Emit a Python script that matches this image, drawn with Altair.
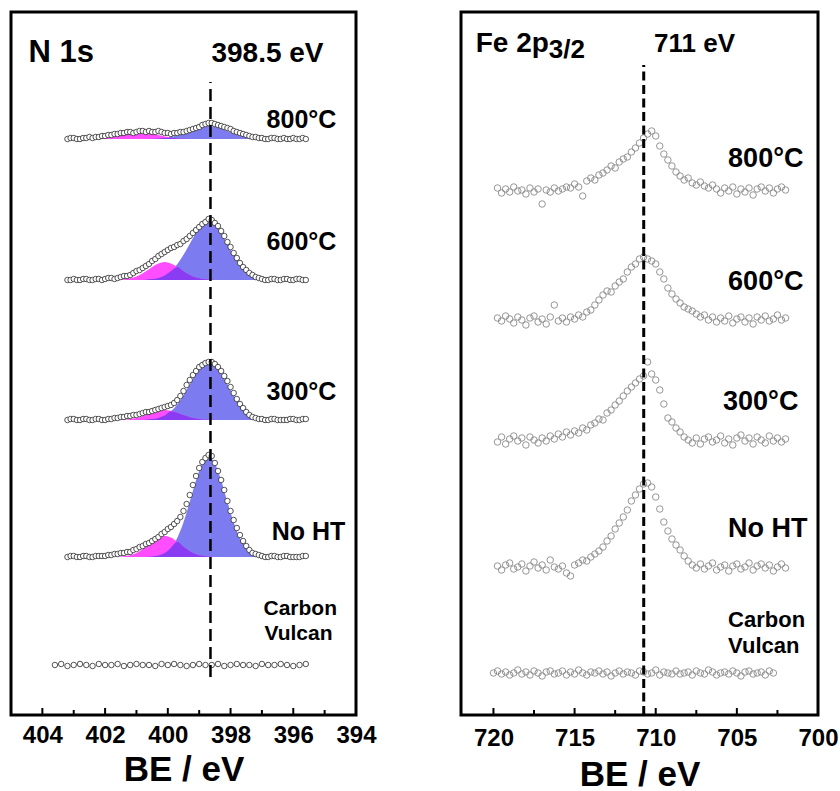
import altair as alt
import pandas as pd

FONT = "Liberation Sans"
BLUE = "#7C7CF0"
PINK = "#FF4DFF"
PURPLE = "#8A3CF2"

# ---------------- N 1s panel data ----------------
N_E = [403.2, 403.1, 403.0, 402.9, 402.8, 402.7, 402.6, 402.5, 402.4, 402.3,
       402.2, 402.1, 402.0, 401.9, 401.8, 401.7, 401.6, 401.5, 401.4, 401.3,
       401.2, 401.1, 401.0, 400.9, 400.8, 400.7, 400.6, 400.5, 400.4, 400.3,
       400.2, 400.1, 400.0, 399.9, 399.8, 399.7, 399.6, 399.5, 399.4, 399.3,
       399.2, 399.1, 399.0, 398.9, 398.8, 398.7, 398.6, 398.5, 398.4, 398.3,
       398.2, 398.1, 398.0, 397.9, 397.8, 397.7, 397.6, 397.5, 397.4, 397.3,
       397.2, 397.1, 397.0, 396.9, 396.8, 396.7, 396.6, 396.5, 396.4, 396.3,
       396.2, 396.1, 396.0, 395.9, 395.8, 395.7, 395.6]

N_800 = [0, 1, 1, 0, 0, 1, 1, 2, 1, 2,
         2, 3, 3, 4, 4, 5, 5, 6, 6, 7,
         7, 6, 7, 8, 8, 7, 8, 7, 7, 8,
         7, 6, 6, 5, 6, 6, 7, 7, 8, 9,
         10, 11, 12, 14, 15, 16, 16, 15, 14, 13,
         12, 11, 10, 8, 7, 6, 5, 4, 3, 2,
         2, 1, 1, 0, 0, 1, 1, 0, 0, 1,
         0, 0, 1, 0, 0, 1, 0]
N_600 = [0, 0, 1, 0, 0, 1, 1, 0, 0, 1,
         1, 0, 1, 2, 2, 1, 2, 3, 4, 4,
         5, 7, 9, 10, 12, 14, 16, 19, 21, 24,
         26, 28, 30, 32, 33, 35, 36, 39, 41, 44,
         47, 50, 53, 56, 58, 61, 60, 57, 54, 49,
         44, 38, 33, 27, 22, 17, 13, 10, 7, 5,
         3, 2, 1, 0, 0, 1, 1, 0, 0, 1,
         1, 0, 0, 1, 1, 0, 0]
N_300 = [0, 1, 1, 0, 0, 1, 1, 0, 0, 1,
         1, 0, 0, 1, 1, 2, 2, 3, 3, 4,
         4, 5, 5, 6, 7, 8, 8, 9, 10, 11,
         12, 13, 14, 15, 17, 20, 24, 29, 35, 40,
         45, 49, 53, 55, 57, 58, 58, 56, 53, 49,
         44, 39, 33, 27, 21, 16, 12, 8, 5, 3,
         2, 1, 1, 0, 0, 1, 1, 0, 0, 0,
         0, 1, 1, 0, 0, 1, 1]
N_NOHT = [0, 1, 1, 0, 0, 1, 1, 0, 0, 1,
          1, 1, 1, 2, 2, 3, 3, 4, 4, 5,
          5, 7, 8, 10, 11, 13, 14, 16, 18, 20,
          23, 25, 28, 30, 33, 36, 40, 46, 53, 62,
          72, 81, 89, 95, 99, 102, 101, 94, 86, 77,
          67, 56, 46, 37, 29, 22, 16, 11, 7, 4,
          3, 2, 1, 0, 0, 1, 1, 0, 0, 1,
          1, 0, 0, 0, 0, 1, 1]

N_CV_E = [403.6, 403.4, 403.2, 403.0, 402.8, 402.6, 402.4, 402.2, 402.0, 401.8,
          401.6, 401.4, 401.2, 401.0, 400.8, 400.6, 400.4, 400.2, 400.0, 399.8,
          399.6, 399.4, 399.2, 399.0, 398.8, 398.6, 398.4, 398.2, 398.0, 397.8,
          397.6, 397.4, 397.2, 397.0, 396.8, 396.6, 396.4, 396.2, 396.0, 395.8,
          395.6]
N_CV = [0, 1, -1, 0, 1, 0, -1, 1, 0, 0,
        1, -1, 0, 1, 0, 0, -1, 1, 0, 1,
        0, -1, 0, 1, 0, 0, 1, -1, 0, 1,
        0, 0, -1, 1, 0, 0, 1, 0, -1, 0,
        1]

# fitted components (blue: main peak, pink: shoulder)
N_FIT_E = [403.1, 402.9, 402.7, 402.5, 402.3, 402.1, 401.9, 401.7, 401.5, 401.3,
           401.1, 400.9, 400.7, 400.5, 400.3, 400.1, 399.9, 399.7, 399.5, 399.3,
           399.1, 398.9, 398.7, 398.5, 398.3, 398.1, 397.9, 397.7, 397.5, 397.3,
           397.1, 396.9, 396.7, 396.5, 396.3, 396.1, 395.9, 395.7]
BLUE_800 = [0] * 13 + [0.2, 0.5, 1.0, 2.0, 3.5, 5.7, 8.1, 10.6, 12.3, 13, 12.3, 10.6,
                       8.1, 5.7, 3.5, 2.0, 1.0, 0.5, 0.2] + [0] * 6
PINK_800 = [0] * 3 + [0.1, 0.3, 0.6, 1.3, 2.4, 3.9, 5.4, 6.6, 7, 6.6, 5.4, 3.9, 2.4,
                      1.3, 0.6, 0.3, 0.1] + [0] * 18
BLUE_600 = [0] * 12 + [0.3, 0.9, 2.1, 4.5, 8.9, 15.8, 25.2, 36.3, 47.1, 55.0, 58, 55.0,
                       47.1, 36.3, 25.2, 15.8, 8.9, 4.5, 2.1, 0.9, 0.3] + [0] * 5
PINK_600 = [0] * 7 + [0.1, 0.4, 1.0, 2.4, 5.0, 8.8, 13.1, 16.6, 18, 16.6, 13.1, 8.8,
                      5.0, 2.4, 1.0, 0.4, 0.1] + [0] * 14
BLUE_300 = [0] * 12 + [0.3, 0.9, 2.1, 4.4, 8.8, 15.5, 24.8, 35.7, 46.3, 54.1, 57, 54.1,
                       46.3, 35.7, 24.8, 15.5, 8.8, 4.4, 2.1, 0.9, 0.3] + [0] * 5
PINK_300 = [0] * 7 + [0.1, 0.2, 0.6, 1.4, 2.8, 4.9, 7.3, 9.2, 10, 9.2, 7.3, 4.9,
                      2.8, 1.4, 0.6, 0.2, 0.1] + [0] * 14
BLUE_NOHT = [0] * 13 + [0.5, 1.5, 3.9, 9.3, 19.1, 34.7, 55.2, 76.8, 93.6, 100, 93.6, 76.8,
                        55.2, 34.7, 19.1, 9.3, 3.9, 1.5, 0.5] + [0] * 6
PINK_NOHT = [0] * 7 + [0.1, 0.4, 1.2, 2.8, 5.8, 10.2, 15.2, 19.4, 21, 19.4, 15.2, 10.2,
                       5.8, 2.8, 1.2, 0.4, 0.1] + [0] * 14

N_OFFSETS = {"800°C": 576, "600°C": 435, "300°C": 295, "No HT": 158, "Carbon Vulcan": 50}

# ---------------- Fe 2p3/2 panel data ----------------
FE_E = [719.75, 719.5, 719.25, 719.0, 718.75, 718.5, 718.25, 718.0, 717.75, 717.5, 717.25, 717.0,
        716.75, 716.5, 716.25, 716.0, 715.75, 715.5, 715.25, 715.0, 714.75, 714.5, 714.25, 714.0,
        713.75, 713.5, 713.25, 713.0, 712.75, 712.5, 712.25, 712.0, 711.75, 711.5, 711.25, 711.0,
        710.75, 710.5, 710.25, 710.0, 709.75, 709.5, 709.25, 709.0, 708.75, 708.5, 708.25, 708.0,
        707.75, 707.5, 707.25, 707.0, 706.75, 706.5, 706.25, 706.0, 705.75, 705.5, 705.25, 705.0,
        704.75, 704.5, 704.25, 704.0, 703.75, 703.5, 703.25, 703.0, 702.75, 702.5, 702.25, 702.0]
FE_800 = [2, -3, 1, -2, 3, -1, 0, -4, 2, -2, 1, -14,
          0, -2, 2, -1, 1, 3, 2, 6, 3, -6, 9, 12,
          10, 15, 17, 20, 24, 22, 28, 31, 33, 38, 42, 47,
          52, 56, 59, 54, 44, 36, 30, 24, 18, 14, 10, 12,
          7, 5, 8, 4, 2, 5, 1, -3, 2, -1, 3, -4,
          1, -2, 2, -5, 1, 3, -1, 2, -3, 1, 3, 0]
FE_600 = [1, -2, 3, 0, -4, 2, -1, -6, 1, 3, -3, 0,
          -5, 2, 14, -2, 1, -3, 2, 0, 4, 2, 7, 9,
          14, 19, 24, 28, 27, 33, 37, 40, 47, 52, 55, 60,
          62, 60, 58, 55, 47, 40, 31, 25, 20, 16, 12, 10,
          8, 5, 2, 4, -1, 2, -3, 1, -2, 3, -4, 0,
          2, -3, 1, -5, 2, -1, 3, -2, 0, 4, -1, 1]
FE_300 = [-2, 3, -4, 1, 4, -1, 2, -5, 3, 0, -3, 2,
          -1, 4, 1, 6, 3, 8, 5, 9, 7, 12, 10, 15,
          17, 21, 20, 27, 30, 35, 39, 44, 49, 53, 57, 61,
          64, 78, 66, 60, 50, 36, 22, 18, 12, 8, 3, 0,
          -3, 2, -4, 1, 3, -2, 0, 4, -3, 1, -5, 2,
          5, -1, 2, -4, 3, 0, -3, 4, -1, 2, -2, 1]
FE_NOHT = [1, -3, 2, 4, -2, 0, 3, -4, 1, 5, -1, 2,
           -3, 7, 0, -2, 1, -6, -9, 2, 4, 7, 6, 10,
           13, 16, 20, 26, 31, 38, 44, 50, 57, 66, 72, 78,
           83, 84, 80, 70, 58, 45, 36, 28, 22, 17, 11, 6,
           2, -1, 3, -2, 1, 4, -3, 0, 2, -4, 1, 3,
           -2, 0, 4, -3, 1, 3, -1, 2, -4, 0, 3, -1]
FE_CV_E = [720.0, 719.75, 719.5, 719.25, 719.0, 718.75, 718.5, 718.25, 718.0, 717.75,
           717.5, 717.25, 717.0, 716.75, 716.5, 716.25, 716.0, 715.75, 715.5, 715.25,
           715.0, 714.75, 714.5, 714.25, 714.0, 713.75, 713.5, 713.25, 713.0, 712.75,
           712.5, 712.25, 712.0, 711.75, 711.5, 711.25, 711.0, 710.75, 710.5, 710.25,
           710.0, 709.75, 709.5, 709.25, 709.0, 708.75, 708.5, 708.25, 708.0, 707.75,
           707.5, 707.25, 707.0, 706.75, 706.5, 706.25, 706.0, 705.75, 705.5, 705.25,
           705.0, 704.75, 704.5, 704.25, 704.0, 703.75, 703.5, 703.25, 703.0, 702.75]
FE_CV = [0, 2, -1, 1, -2, 0, 3, -1, 1, -2,
         2, 0, -3, 1, 2, -1, 0, 2, -2, 1,
         -1, 3, 0, -2, 1, 0, 2, -1, 1, -3,
         0, 2, -1, 1, 0, -2, 2, 1, -1, 0,
         3, -2, 1, 0, -1, 2, -1, 0, 1, -2,
         2, 0, -1, 3, 1, -2, 0, 1, -1, 2,
         0, -3, 1, 2, -1, 0, 1, -2, 2, 0]

FE_OFFSETS = {"800°C": 525, "600°C": 396, "300°C": 275, "No HT": 148, "Carbon Vulcan": 42}

# ---------------- annotations ----------------
N_TICKS = [404, 402, 400, 398, 396, 394]
N_MINOR = [403, 401, 399, 397, 395]
FE_TICKS = [720, 715, 710, 705, 700]
FE_MINOR = [717.5, 712.5, 707.5, 702.5]

N_REF_E = 398.64
FE_REF_E = 710.74

N_TEXT = ["N 1s", "398.5 eV", "800°C", "600°C", "300°C", "No HT", "Carbon", "Vulcan"]
N_TEXT_E = [404.44, 398.61, 396.85, 396.85, 396.85, 396.69, 396.95, 396.92]
N_TEXT_Y = [653, 653, 587, 465, 315, 175, 100, 75]
N_TEXT_S = [31, 28, 25, 25, 25, 25, 21, 21]

FE_TEXT = ["Fe 2p", "3/2", "711 eV", "800°C", "600°C", "300°C", "No HT", "Carbon", "Vulcan"]
FE_TEXT_E = [721.09, 716.59, 710.1, 705.54, 705.54, 705.85, 705.54, 705.54, 705.54]
FE_TEXT_Y = [663, 657, 663, 548, 425, 305, 178, 88, 62]
FE_TEXT_S = [28, 26, 26, 27, 27, 27, 27, 22, 22]

H = 703
WL = 345
WR = 357

# ---------------- tables ----------------
def points_table(series, offsets):
    rows = []
    for name, (es, vals) in series.items():
        for e, v in zip(es, vals):
            rows.append({"E": e, "y": offsets[name] + v, "series": name})
    return pd.DataFrame(rows)


n_pts = points_table({
    "800°C": (N_E, N_800), "600°C": (N_E, N_600), "300°C": (N_E, N_300),
    "No HT": (N_E, N_NOHT), "Carbon Vulcan": (N_CV_E, N_CV)}, N_OFFSETS)

fe_pts = points_table({
    "800°C": (FE_E, FE_800), "600°C": (FE_E, FE_600), "300°C": (FE_E, FE_300),
    "No HT": (FE_E, FE_NOHT), "Carbon Vulcan": (FE_CV_E, FE_CV)}, FE_OFFSETS)

fit_rows = []
for name, b_list, p_list in [("800°C", BLUE_800, PINK_800), ("600°C", BLUE_600, PINK_600),
                             ("300°C", BLUE_300, PINK_300), ("No HT", BLUE_NOHT, PINK_NOHT)]:
    off = N_OFFSETS[name]
    for e, b, p in zip(N_FIT_E, b_list, p_list):
        fit_rows.append({"E": e, "series": name, "base": off, "blue": off + b,
                         "pink": off + p, "purple": off + min(b, p)})
fit_df = pd.DataFrame(fit_rows)


def x_enc(domain, ticks, lab_pad, title_pad):
    return alt.X("E:Q",
                 scale=alt.Scale(domain=domain, reverse=True, nice=False, zero=False),
                 axis=alt.Axis(values=ticks, title="BE / eV", format="d", ticks=False, tickSize=0,
                               domain=False, grid=False, labelFlush=False, labelOverlap=False,
                               labelBound=False, labelFont=FONT, labelFontSize=24,
                               labelFontWeight="bold", labelColor="black", labelPadding=lab_pad,
                               titleFont=FONT, titleFontSize=35, titleFontWeight="bold",
                               titleColor="black", titlePadding=title_pad))


def y_enc(field):
    return alt.Y(field, scale=alt.Scale(domain=[0, H], nice=False, zero=False), axis=None)


def panel(xe, pts, tick_major, tick_minor, ref_e, ref_y1, ref_y2, dash, dash_w,
          texts, text_e, text_y, text_s, point_style, width, fits=None):
    layers = []
    if fits is not None:
        for field, col in [("blue", BLUE), ("pink", PINK), ("purple", PURPLE)]:
            layers.append(
                alt.Chart(fits).mark_area(color=col, opacity=1, interpolate="monotone").encode(
                    x=xe, y=y_enc(f"{field}:Q"), y2=alt.Y2("base:Q"), detail="series:N"))
    layers.append(alt.Chart(pts).mark_point(shape="circle", **point_style).encode(
        x=xe, y=y_enc("y:Q"), detail="series:N"))
    ref = pd.DataFrame({"E": [ref_e], "y1": [ref_y1], "y2": [ref_y2]})
    layers.append(alt.Chart(ref).mark_rule(color="black", strokeWidth=dash_w, strokeDash=dash).encode(
        x=xe, y=y_enc("y1:Q"), y2=alt.Y2("y2:Q")))
    tk = pd.DataFrame({"E": tick_major})
    layers.append(alt.Chart(tk).mark_rule(color="black", strokeWidth=2).encode(
        x=xe, y=alt.value(H), y2=alt.value(H - 7)))
    tm = pd.DataFrame({"E": tick_minor})
    layers.append(alt.Chart(tm).mark_rule(color="black", strokeWidth=2).encode(
        x=xe, y=alt.value(H), y2=alt.value(H - 5)))
    tx = pd.DataFrame({"E": text_e, "y": text_y, "t": texts, "s": text_s})
    layers.append(alt.Chart(tx).mark_text(align="left", baseline="alphabetic", font=FONT,
                                          fontWeight="bold", color="black").encode(
        x=xe, y=y_enc("y:Q"), text="t:N", size=alt.Size("s:Q", scale=None, legend=None)))
    return alt.layer(*layers).properties(width=width, height=H)


left = panel(x_enc([394, 405], N_TICKS, 8, 5), n_pts, N_TICKS, N_MINOR, N_REF_E, 38, 633,
             [12, 6], 2.5, N_TEXT, N_TEXT_E, N_TEXT_Y, N_TEXT_S,
             dict(size=30, filled=True, fill="white", stroke="#2a2a2a", strokeWidth=0.8, opacity=1),
             WL, fits=fit_df)

right = panel(x_enc([700, 722], FE_TICKS, 11, 7), fe_pts, FE_TICKS, FE_MINOR, FE_REF_E, 0, 650,
              [9, 4.5], 3, FE_TEXT, FE_TEXT_E, FE_TEXT_Y, FE_TEXT_S,
              dict(size=42, filled=False, stroke="#8a8a8a", strokeWidth=0.9, opacity=1),
              WR)

chart = alt.hconcat(left, right, spacing=105, bounds="flush").properties(
    padding={"left": 9, "top": 10, "right": 0, "bottom": 0},
    background="white",
).configure_view(stroke="black", strokeWidth=3)

chart.save("out.html", embed_options={"renderer": "svg", "actions": False})
